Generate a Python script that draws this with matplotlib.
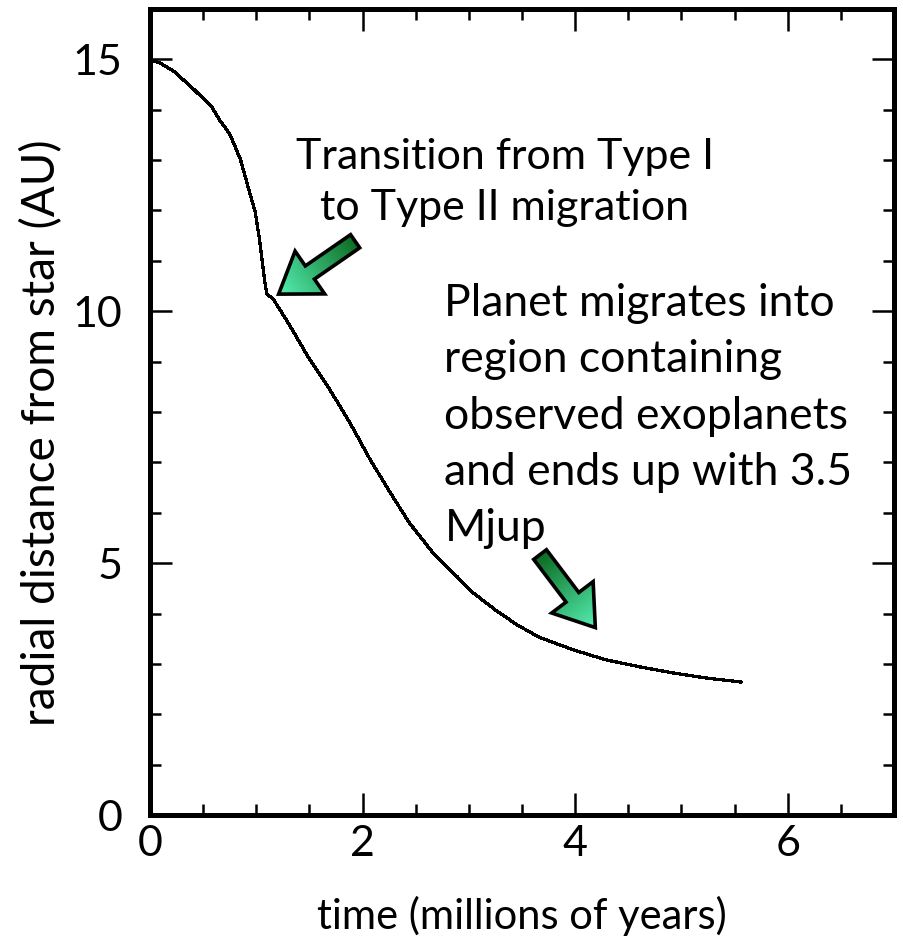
import numpy as np
import matplotlib.pyplot as plt
from matplotlib.patches import Polygon
from matplotlib.ticker import MultipleLocator

plt.rcParams['font.family'] = ['Lato', 'DejaVu Sans']

# orbital radius of the planet vs time
time_myr = [0.0, 0.10, 0.22, 0.39, 0.58, 0.66, 0.75, 0.85, 0.92, 0.99, 1.03, 1.08,
            1.10, 1.16, 1.32, 1.50, 1.69, 1.88, 2.07, 2.26, 2.44, 2.66, 2.89,
            3.04, 3.25, 3.45, 3.66, 3.98, 4.29, 4.61, 4.92, 5.23, 5.56]
radius_au = [15.0, 14.92, 14.77, 14.45, 14.06, 13.78, 13.52, 13.02, 12.49, 11.97,
             11.43, 10.58, 10.34, 10.24, 9.70, 9.05, 8.45, 7.79, 7.06, 6.40, 5.80,
             5.21, 4.73, 4.41, 4.07, 3.78, 3.53, 3.28, 3.08, 2.94, 2.82, 2.72, 2.64]

note1 = "Transition from Type I\nto Type II migration"
note2 = "Planet migrates into\nregion containing\nobserved exoplanets\nand ends up with 3.5\nMjup"

# arrows: (tail, tip) in data units
arrow1 = ((1.93, 11.39), (1.21, 10.34))
arrow2 = ((3.67, 5.17), (4.19, 3.72))

W, H = 904, 938
fig = plt.figure(figsize=(W / 100, H / 100), dpi=100)
ax = fig.add_axes([150 / W, (H - 815) / H, 744 / W, 806 / H])

ax.plot(time_myr, radius_au, color='black', lw=1.6, antialiased=False)

ax.set_xlim(0, 7)
ax.set_ylim(0, 16)
ax.xaxis.set_major_locator(MultipleLocator(2))
ax.xaxis.set_minor_locator(MultipleLocator(0.5))
ax.yaxis.set_major_locator(MultipleLocator(5))
ax.yaxis.set_minor_locator(MultipleLocator(1))
ax.tick_params(which='both', direction='in', top=True, right=True, width=1.8,
               labelsize=31)
ax.tick_params(which='major', length=16)
ax.tick_params(which='minor', length=8)
ax.tick_params(axis='x', pad=7)
ax.tick_params(axis='y', pad=20)
for s in ax.spines.values():
    s.set_linewidth(3.6)

ax.set_xlabel('time (millions of years)', fontsize=30, labelpad=24)
ax.set_ylabel('radial distance from star (AU)', fontsize=33)
ax.yaxis.set_label_coords(-0.117, 0.474)

ax.text(3.34, 12.55, note1, fontsize=31, ha='center', va='center',
        linespacing=1.42)
ax.text(2.77, 7.92, note2, fontsize=32, ha='left', va='center',
        linespacing=1.46)

# overlay in pixel coordinates for the block arrows
ov = fig.add_axes([0, 0, 1, 1], zorder=5)
ov.set_xlim(0, W)
ov.set_ylim(H, 0)
ov.axis('off')


def to_px(pt):
    x, y = ax.transData.transform(pt)
    return np.array([x, H - y])


def block_arrow(tail, tip, shaft=8, head=26, head_len=38):
    a, b = to_px(tail), to_px(tip)
    u = (b - a) / np.linalg.norm(b - a)
    n = np.array([-u[1], u[0]])
    base = b - u * head_len
    pts = [a + n * shaft, base + n * shaft, base + n * head, b,
           base - n * head, base - n * shaft, a - n * shaft]
    poly = Polygon(pts, closed=True, facecolor='none', edgecolor='black',
                   lw=2.6, joinstyle='miter', zorder=6)
    ov.add_patch(poly)
    pts = np.array(pts)
    x0, y0 = pts.min(axis=0) - 2
    x1, y1 = pts.max(axis=0) + 2
    gx, gy = np.meshgrid(np.linspace(x0, x1, 200), np.linspace(y0, y1, 200))
    s = ((gx - a[0]) * u[0] + (gy - a[1]) * u[1]) / np.linalg.norm(b - a)
    s = np.clip(s, 0, 1)[..., None]
    dark = np.array([0.05, 0.42, 0.13])
    light = np.array([0.33, 0.94, 0.70])
    img = dark + (light - dark) * s
    im = ov.imshow(img, extent=(x0, x1, y1, y0), origin='upper',
                   interpolation='bilinear', zorder=5)
    im.set_clip_path(poly)
    ov.set_xlim(0, W)
    ov.set_ylim(H, 0)


block_arrow(*arrow1)
block_arrow(*arrow2)

fig.savefig('out.png', dpi=100)
